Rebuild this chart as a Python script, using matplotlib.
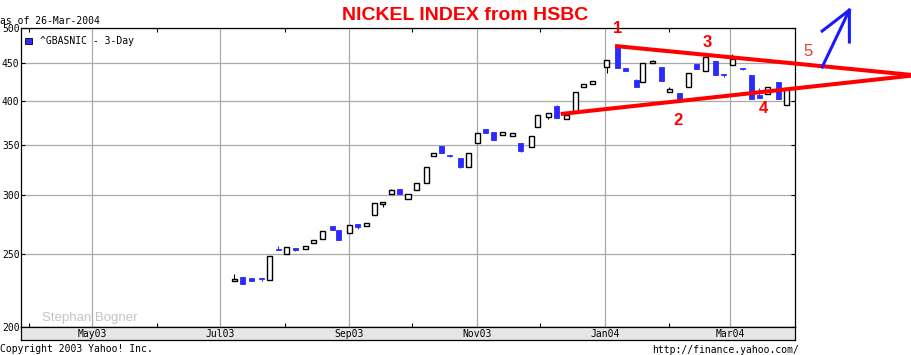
import matplotlib

matplotlib.use("Agg")
import matplotlib.dates as mdates
import matplotlib.pyplot as plt
import pandas as pd
from matplotlib.patches import Rectangle
from matplotlib.ticker import FixedLocator, FixedFormatter, NullLocator

# 3-day candles of ^GBASNIC
DATES = [
    "2003-07-08", "2003-07-12", "2003-07-16", "2003-07-21", "2003-07-25", "2003-07-29",
    "2003-08-02", "2003-08-06", "2003-08-11", "2003-08-15", "2003-08-19", "2003-08-24",
    "2003-08-27", "2003-09-01", "2003-09-05", "2003-09-09", "2003-09-13", "2003-09-17",
    "2003-09-21", "2003-09-25", "2003-09-29", "2003-10-03", "2003-10-08", "2003-10-11",
    "2003-10-15", "2003-10-19", "2003-10-24", "2003-10-28", "2003-11-01", "2003-11-05",
    "2003-11-09", "2003-11-13", "2003-11-18", "2003-11-22", "2003-11-27", "2003-11-30",
    "2003-12-05", "2003-12-09", "2003-12-14", "2003-12-18", "2003-12-22", "2003-12-26",
    "2004-01-02", "2004-01-07", "2004-01-11", "2004-01-16", "2004-01-19", "2004-01-24",
    "2004-01-28", "2004-02-01", "2004-02-06", "2004-02-10", "2004-02-14", "2004-02-18",
    "2004-02-23", "2004-02-27", "2004-03-02", "2004-03-07", "2004-03-11", "2004-03-15",
    "2004-03-19", "2004-03-24", "2004-03-28",
]
OPEN = [
    230.1, 233.2, 232.4, 232.4, 230.8, 253.8, 250.0, 254.6, 253.8, 259.0, 261.7, 272.6,
    269.3, 266.6, 274.1, 272.4, 281.7, 291.4, 300.5, 305.4, 295.9, 304.2, 310.8, 337.6,
    348.5, 338.7, 335.9, 327.0, 351.4, 367.1, 363.8, 360.1, 359.7, 351.7, 347.1, 369.0,
    381.2, 394.0, 378.2, 387.1, 417.2, 421.9, 443.6, 474.6, 442.3, 426.3, 424.5, 449.1,
    444.0, 411.6, 409.6, 418.0, 448.1, 438.2, 451.9, 434.2, 446.4, 442.3, 432.9, 407.1,
    408.4, 423.7, 394.8,
]
CLOSE = [
    231.7, 228.4, 230.1, 231.7, 248.4, 253.0, 255.9, 253.4, 256.2, 260.9, 268.5, 269.6,
    261.4, 273.2, 272.1, 274.9, 292.3, 293.2, 304.2, 301.0, 300.5, 310.8, 326.4, 340.7,
    341.4, 337.9, 327.0, 340.7, 362.3, 363.0, 355.3, 363.4, 362.3, 343.5, 359.0, 382.9,
    385.2, 380.1, 382.9, 410.9, 421.1, 425.0, 453.2, 443.1, 439.0, 418.0, 449.1, 451.9,
    425.8, 414.7, 400.4, 435.5, 440.9, 457.4, 433.7, 433.4, 454.6, 441.6, 402.9, 404.1,
    417.2, 402.9, 415.9,
]
HIGH = [
    235.1, 233.2, 232.4, 232.4, 248.4, 256.4, 255.9, 254.6, 256.2, 260.9, 268.5, 272.6,
    269.3, 273.2, 274.1, 274.9, 292.3, 293.2, 305.4, 305.4, 300.5, 310.8, 326.4, 340.7,
    348.5, 338.7, 335.9, 340.7, 362.3, 367.1, 363.8, 363.4, 362.3, 351.7, 359.0, 382.9,
    385.2, 395.2, 382.9, 410.9, 421.1, 425.0, 453.2, 474.6, 442.3, 428.0, 449.1, 453.7,
    444.0, 417.6, 409.6, 435.5, 448.1, 457.4, 451.9, 434.2, 461.7, 442.3, 432.9, 415.9,
    417.2, 423.7, 415.9,
]
LOW = [
    230.1, 228.4, 230.1, 230.6, 230.8, 253.0, 250.0, 252.5, 253.8, 258.5, 261.7, 269.6,
    261.4, 266.6, 270.4, 272.4, 281.7, 289.3, 300.5, 301.0, 295.9, 304.2, 310.8, 337.6,
    341.4, 336.9, 325.7, 327.0, 351.4, 363.0, 355.3, 360.1, 359.7, 342.4, 347.1, 369.0,
    378.5, 380.1, 378.2, 387.1, 417.2, 421.9, 436.3, 443.1, 439.0, 418.0, 424.5, 449.1,
    425.8, 411.6, 400.4, 418.0, 440.9, 438.2, 433.7, 430.2, 446.4, 439.9, 402.9, 404.1,
    408.4, 402.9, 394.8,
]

MONTH_TICKS = ["2003-05-01", "2003-07-01", "2003-09-01", "2003-11-01", "2004-01-01", "2004-03-01"]
MONTH_LABELS = ["May03", "Jul03", "Sep03", "Nov03", "Jan04", "Mar04"]
MINOR_TICKS = ["2003-04-01", "2003-06-01", "2003-08-01", "2003-10-01", "2003-12-01", "2004-02-01"]
Y_TICKS = [200, 250, 300, 350, 400, 450, 500]
X_RANGE = ["2003-03-28", "2004-04-01"]

# hand-drawn triangle and arrow
UPPER_X = ["2004-01-06", "2004-05-27"]
UPPER_Y = [473.6, 433.3]
LOWER_X = ["2003-12-11", "2004-05-27"]
LOWER_Y = [384.4, 432.5]
SHAFT_X = ["2004-04-14", "2004-04-27"]
SHAFT_Y = [444.0, 528.8]
HEAD_X = ["2004-04-14", "2004-04-27", "2004-04-27"]
HEAD_Y = [495.8, 528.8, 479.4]
NUM_TEXT = ["1", "2", "3", "4"]
NUM_X = ["2004-01-07", "2004-02-05", "2004-02-19", "2004-03-17"]
NUM_Y = [499.0, 376.8, 478.7, 390.4]
FIVE_X = "2004-04-07"
FIVE_Y = 466.3

BLUE = "#2b2bff"
GRID = "#aaaaaa"
MONO = "DejaVu Sans Mono"


def num(d):
    return mdates.date2num(pd.Timestamp(d))


def main() -> None:
    fig = plt.figure(figsize=(9.12, 3.55), dpi=100)
    left, width = 21 / 912, 774 / 912
    ax = fig.add_axes([left, 28 / 355, width, 298.7 / 355])
    band = fig.add_axes([left, 15 / 355, width, 13 / 355])

    x = [num(d) for d in DATES]
    body_w = 2.4
    for xi, o, c, h, l in zip(x, OPEN, CLOSE, HIGH, LOW):
        up = c >= o
        col = "black" if up else BLUE
        ax.vlines(xi, l, h, color=col, linewidth=0.8, zorder=3)
        if up:
            ax.bar(xi, c - o, bottom=o, width=body_w, facecolor="white", edgecolor="black",
                   linewidth=1.0, zorder=4)
        else:
            ax.bar(xi, o - c, bottom=c, width=body_w, facecolor=BLUE, edgecolor=BLUE,
                   linewidth=0.6, zorder=4)

    ax.set_yscale("log")
    ax.set_ylim(200, 500)
    ax.set_xlim(num(X_RANGE[0]), num(X_RANGE[1]))
    ax.yaxis.set_major_locator(FixedLocator(Y_TICKS))
    ax.yaxis.set_major_formatter(FixedFormatter([str(v) for v in Y_TICKS]))
    ax.yaxis.set_minor_locator(NullLocator())
    ax.xaxis.set_major_locator(FixedLocator([num(d) for d in MONTH_TICKS]))
    ax.xaxis.set_minor_locator(FixedLocator([num(d) for d in MINOR_TICKS]))
    ax.tick_params(axis="x", which="major", length=0, labelbottom=False)
    ax.tick_params(axis="x", which="minor", direction="in", length=3, width=0.8,
                   top=True, bottom=True, labelbottom=False)
    ax.tick_params(axis="y", direction="in", length=3, width=0.8, left=True, right=True,
                   pad=1, labelsize=7)
    for lab in ax.get_yticklabels():
        lab.set_fontfamily(MONO)
    ax.grid(True, which="major", color=GRID, linewidth=0.9)
    ax.set_axisbelow(True)
    for sp in ax.spines.values():
        sp.set_linewidth(0.9)

    band.set_xlim(ax.get_xlim())
    band.set_ylim(0, 1)
    band.set_facecolor("#e6e6e6")
    band.set_xticks([])
    band.set_yticks([])
    for sp in band.spines.values():
        sp.set_linewidth(0.9)
    for d, lab in zip(MONTH_TICKS, MONTH_LABELS):
        band.text(num(d), 0.45, lab, ha="center", va="center", fontsize=7, family=MONO)

    # legend
    ax.add_patch(Rectangle((4 / 774, 0.9475), 7 / 774, 0.02, transform=ax.transAxes,
                           facecolor=BLUE, edgecolor="black", linewidth=0.6, zorder=5))
    ax.text(19 / 774, 0.957, "^GBASNIC - 3-Day", transform=ax.transAxes, ha="left",
            va="center", fontsize=7, family=MONO)

    ax.text(21 / 774, 0.03, "Stephan Bogner", transform=ax.transAxes, ha="left",
            va="center", fontsize=9.5, family="Liberation Sans", color="#c4c4c4")

    # annotations
    ax.plot([num(d) for d in UPPER_X], UPPER_Y, color="red", linewidth=2.9, clip_on=False,
            zorder=6, solid_capstyle="butt")
    ax.plot([num(d) for d in LOWER_X], LOWER_Y, color="red", linewidth=2.9, clip_on=False,
            zorder=6, solid_capstyle="butt")
    ax.plot([num(d) for d in SHAFT_X], SHAFT_Y, color="#1a1aff", linewidth=2.2, clip_on=False,
            zorder=6)
    ax.plot([num(d) for d in HEAD_X], HEAD_Y, color="#1a1aff", linewidth=2.2, clip_on=False,
            zorder=6)
    for t, d, v in zip(NUM_TEXT, NUM_X, NUM_Y):
        ax.text(num(d), v, t, color="red", fontsize=12, fontweight="bold",
                family="Liberation Sans", ha="center", va="center", zorder=7)
    ax.text(num(FIVE_X), FIVE_Y, "5", color="#e63c3c", fontsize=12,
            family="Liberation Sans", ha="center", va="center", zorder=7)

    fig.text(465.5 / 912, 1 - 15.8 / 355, "NICKEL INDEX from HSBC", color="red", fontsize=14,
             fontweight="bold", family="Liberation Sans", ha="center", va="center")
    fig.text(0, 1 - 20.5 / 355, "as of 26-Mar-2004", fontsize=7, family=MONO, ha="left",
             va="center")
    fig.text(0, 1 - 349 / 355, "Copyright 2003 Yahoo! Inc.", fontsize=7, family=MONO,
             ha="left", va="center")
    fig.text(799 / 912, 1 - 350 / 355, "http://finance.yahoo.com/", fontsize=7, family=MONO,
             ha="right", va="center")

    fig.savefig("out.png", dpi=100)
    plt.close(fig)


if __name__ == "__main__":
    main()
